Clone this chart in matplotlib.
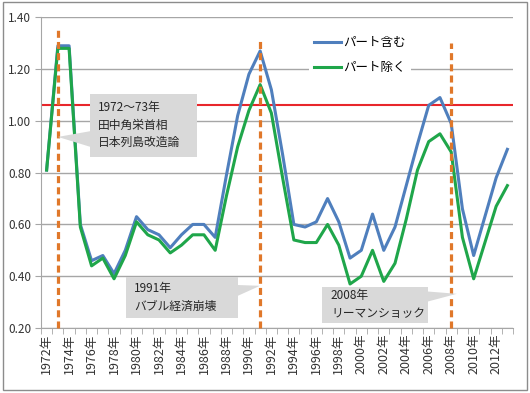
import matplotlib
matplotlib.use("Agg")
import matplotlib.pyplot as plt
import numpy as np
from matplotlib.patches import Polygon, Rectangle

plt.rcParams["font.family"] = ["Noto Sans CJK JP", "DejaVu Sans"]

years = list(range(1972, 2014))
with_part = [0.81, 1.29, 1.29, 0.60, 0.46, 0.48, 0.41, 0.50, 0.63, 0.58,
             0.56, 0.51, 0.56, 0.60, 0.60, 0.55, 0.79, 1.02, 1.18, 1.27,
             1.12, 0.87, 0.60, 0.59, 0.61, 0.70, 0.61, 0.47, 0.50, 0.64,
             0.50, 0.59, 0.75, 0.91, 1.06, 1.09, 0.99, 0.66, 0.48, 0.63,
             0.78, 0.89]
without_part = [0.81, 1.28, 1.28, 0.59, 0.44, 0.47, 0.39, 0.48, 0.61, 0.56,
                0.54, 0.49, 0.52, 0.56, 0.56, 0.50, 0.71, 0.90, 1.04, 1.14,
                1.03, 0.78, 0.54, 0.53, 0.53, 0.60, 0.52, 0.37, 0.40, 0.50,
                0.38, 0.45, 0.62, 0.81, 0.92, 0.95, 0.88, 0.55, 0.39, 0.53,
                0.67, 0.75]
series_names = ["パート含む", "パート除く"]
ref_level = 1.06
event_years = [1973, 1991, 2008]
event_tops = [1.355, 1.32, 1.30]
event_texts = ["1972〜73年\n田中角栄首相\n日本列島改造論",
               "1991年\nバブル経済崩壊",
               "2008年\nリーマンショック"]
yticks = [0.20, 0.40, 0.60, 0.80, 1.00, 1.20, 1.40]

fig = plt.figure(figsize=(5.30, 3.93), dpi=100)
ax = fig.add_axes([41 / 530, 1 - 328 / 393, 472 / 530, (328 - 17.3) / 393])
fig.patches.append(Rectangle((3 / 530, 3 / 393), 524 / 530, 388 / 393,
                             transform=fig.transFigure, fill=False,
                             edgecolor="#8c8c8c", linewidth=1.0))

x = np.arange(len(years))
gray = "#a6a6a6"
orange = "#e0782a"

ax.set_xlim(-0.5, len(years) - 0.5)
ax.set_ylim(0.20, 1.40)
ax.set_yticks(yticks)
ax.set_yticklabels([f"{v:.2f}" for v in yticks], fontsize=8.5, color="#333333")
ax.yaxis.grid(True, color=gray, linewidth=1.0)
ax.set_axisbelow(True)

ax.set_xticks(x[::2])
ax.set_xticklabels([f"{y}年" for y in years[::2]], rotation=90,
                   fontsize=9, color="#333333")
ax.set_xticks(np.arange(-0.5, len(years), 1), minor=True)
ax.tick_params(axis="x", which="major", length=0, pad=4)
ax.tick_params(axis="x", which="minor", length=4, color=gray)
ax.tick_params(axis="y", length=4, color=gray, pad=3)
for side in ["top", "right"]:
    ax.spines[side].set_visible(False)
for side in ["left", "bottom"]:
    ax.spines[side].set_color(gray)

ax.axhline(ref_level, color="#e8262b", linewidth=1.5, zorder=2)

l1, = ax.plot(x, with_part, color="#4f7fbd", linewidth=2.2, label=series_names[0], zorder=3)
l2, = ax.plot(x, without_part, color="#1fa64a", linewidth=2.2, label=series_names[1], zorder=3)

for yr, top in zip(event_years, event_tops):
    xi = years.index(yr)
    ax.plot([xi, xi], [0.20, top], color=orange, linewidth=2.3,
            linestyle=(0, (2.2, 1.3)), zorder=4, clip_on=False)

# callout boxes: (x0, x1, y0, y1), pointer polygon, text anchor
boxes = [
    ((3.86, 13.38, 0.861, 1.104), [(3.86, 0.96), (1.01, 0.938), (3.86, 0.90)], (4.6, 0.983)),
    ((7.07, 17.0, 0.239, 0.398), [(17.0, 0.366), (18.99, 0.363), (17.0, 0.324)], (7.8, 0.318)),
    ((24.5, 33.9, 0.220, 0.359), [(33.9, 0.341), (36.5, 0.332), (33.9, 0.302)], (25.3, 0.290)),
]
for ((x0, x1, y0, y1), tri, (tx, ty)), txt in zip(boxes, event_texts):
    ax.add_patch(Rectangle((x0, y0), x1 - x0, y1 - y0, facecolor="#d9d9d9",
                           edgecolor="none", zorder=5))
    ax.add_patch(Polygon(tri, closed=True, facecolor="#d9d9d9", edgecolor="none", zorder=5))
    ax.text(tx, ty, txt, fontsize=8.5, color="#262626", va="center", ha="left",
            linespacing=1.45, zorder=6)

leg = ax.legend(handles=[l1, l2], loc="upper left", bbox_to_anchor=(0.554, 0.975),
                fontsize=9, frameon=True, fancybox=False, framealpha=1,
                edgecolor="none", handlelength=2.2, handletextpad=0.15,
                labelspacing=0.95, borderpad=0.4)
leg.set_zorder(7)

fig.savefig("out.png", dpi=100)
